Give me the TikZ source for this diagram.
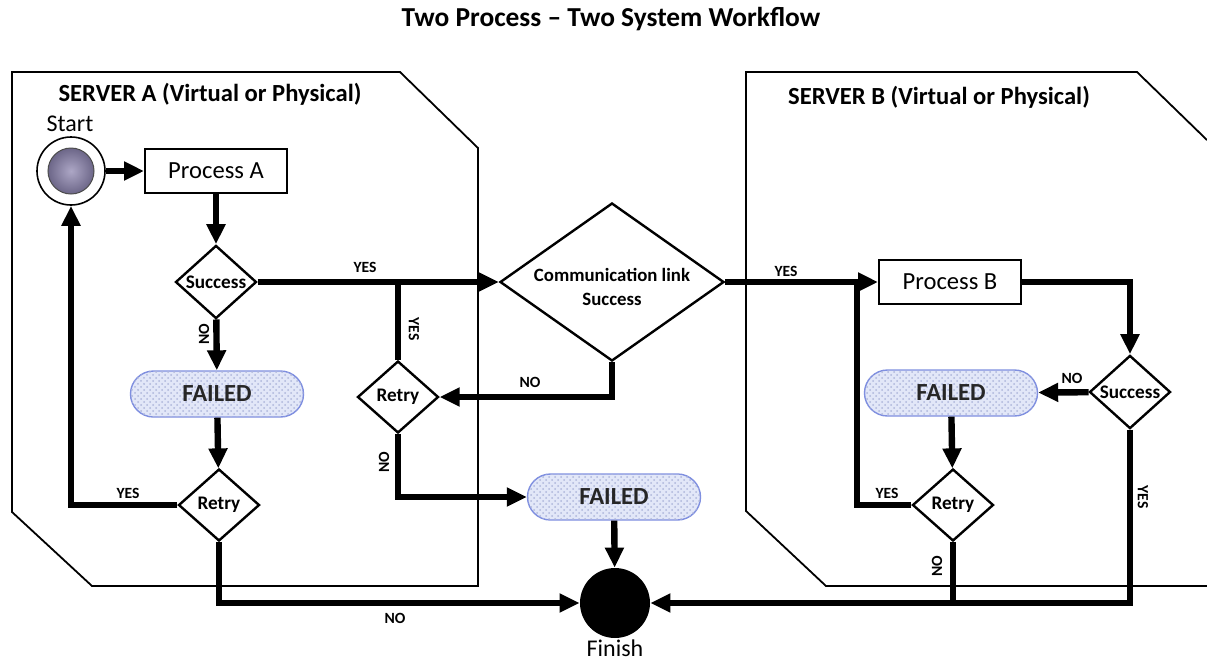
\documentclass[tikz,border=0pt]{standalone}
\usepackage{fontspec}
\setmainfont{Carlito}
\usetikzlibrary{arrows.meta,shapes.geometric,patterns}
\definecolor{failfill}{HTML}{E2E7F8}
\definecolor{failedge}{HTML}{7F8FE0}
\definecolor{dotcol}{HTML}{AEB6DA}
\definecolor{ballin}{HTML}{ADA7C6}
\definecolor{ballout}{HTML}{6C6688}
\tikzset{
  flow/.style={line width=3.2pt},
  arr/.style={flow,-{Triangle[length=10pt,width=9pt]}},
  server/.style={line width=0.9pt},
  procbox/.style={draw,line width=1pt,minimum width=71pt,minimum height=22pt,inner sep=0pt,font=\fontsize{12.3}{14}\selectfont},
  decide/.style={draw,diamond,line width=1.2pt,inner sep=0pt,minimum width=40.5pt,minimum height=36pt,font=\bfseries\fontsize{9.6}{11}\selectfont},
  failpill/.style={draw=failedge,line width=0.7pt,rounded corners=11.5pt,minimum width=86.5pt,minimum height=23pt,inner sep=0pt,
    fill=failfill,postaction={pattern=crosshatch dots,pattern color=dotcol},font=\bfseries\fontsize{12.3}{14}\selectfont,text=black!85},
  tag/.style={font=\bfseries\fontsize{7.8}{9}\selectfont,inner sep=0pt},
  caption/.style={font=\bfseries\fontsize{12.3}{14}\selectfont,inner sep=0pt},
}
\begin{document}
\begin{tikzpicture}[x=0.5pt,y=-0.5pt]
\useasboundingbox (0,0) rectangle (1207,660);
\fill[white] (0,0) rectangle (1207,660);

% title
\node[font=\bfseries\fontsize{13.7}{16}\selectfont,inner sep=0pt] (title) at (611,19) {Two Process -- Two System Workflow};

% server outlines
\draw[server] (12,72) -- (400,72) -- (478,148) -- (478,586) -- (92,586) -- (12,512) -- cycle;
\draw[server] (1207,140) -- (1137,72) -- (746,72) -- (746,511) -- (826,586) -- (1207,586);
\node[caption] (capA) at (210,94) {SERVER A (Virtual or Physical)};
\node[caption] (capB) at (939,97) {SERVER B (Virtual or Physical)};

% start and finish
\node[draw,circle,line width=0.8pt,minimum size=34pt,inner sep=0pt] (start) at (71,171) {};
\shade[inner color=ballin,outer color=ballout,draw=black!70,line width=0.5pt] (start.center) circle[radius=11.5pt];
\node[font=\fontsize{12}{14}\selectfont,inner sep=0pt] (startlbl) at (70,124) {Start};
\node[circle,fill=black,minimum size=35pt,inner sep=0pt] (finish) at (615,603) {};
\node[font=\fontsize{12}{14}\selectfont,inner sep=0pt] (finishlbl) at (615,648) {Finish};

% server A
\node[procbox] (procA) at (216,171) {Process A};
\node[decide] (succA) at (216,282) {Success};
\node[failpill] (failA) at (217,394) {FAILED};
\node[decide] (retryA) at (219,505) {Retry};

% link check: the diamond and its two-line text
\node[draw,diamond,line width=1.2pt,inner sep=0pt,minimum width=112pt,minimum height=79pt] (comm) at (612,282) {};
\node[align=center,inner sep=0pt,font=\bfseries\fontsize{9.4}{11}\selectfont] (commtxt) at (612,287) {Communication link\\[1pt]Success};
\node[decide] (retryM) at (398,397) {Retry};
\node[failpill] (failM) at (614,497) {FAILED};

% server B
\node[procbox] (procB) at (950,282) {Process B};
\node[decide] (succB) at (1130,392) {Success};
\node[failpill] (failB) at (951,393) {FAILED};
\node[decide] (retryB) at (953,505) {Retry};
\coordinate (joinB) at (857,282);

% connectors, server A
\draw[arr] (start) -- (procA);
\draw[arr] (procA) -- (succA);
\draw[arr] (succA) -- (comm);
\draw[arr] (succA) -- (failA);
\draw[arr] (failA) -- (retryA);
\draw[arr] (retryA.west) -| (start.south);
\draw[arr] (retryA.south) |- (finish.west);

% connectors, link check
\draw[flow] (retryM.north) -- (retryM.north |- succA.east);
\draw[arr] (comm.south) |- (retryM.east);
\draw[arr] (retryM.south) |- (failM.west);
\draw[arr] (failM) -- (finish);
\draw[arr] (comm) -- (procB);

% connectors, server B
\draw[arr] (procB.east) -| (succB.north);
\draw[arr] (succB) -- (failB);
\draw[arr] (failB) -- (retryB);
\draw[flow] (retryB.west) -| (joinB);
\draw[flow] (retryB.south) -- (retryB.south |- finish.east);
\draw[arr] (succB.south) |- (finish.east);

% branch tags
\node[tag] (t1) at (365,267) {YES};
\node[tag,rotate=-90] (t2) at (414,329) {YES};
\node[tag,rotate=90] (t3) at (204,334) {NO};
\node[tag] (t4) at (530,382) {NO};
\node[tag,rotate=90] (t5) at (384,462) {NO};
\node[tag] (t6) at (128,493) {YES};
\node[tag] (t7) at (395,618) {NO};
\node[tag] (t8) at (786,271) {YES};
\node[tag] (t9) at (1072,378) {NO};
\node[tag] (t10) at (887,493) {YES};
\node[tag,rotate=90] (t11) at (937,566) {NO};
\node[tag,rotate=-90] (t12) at (1143,497) {YES};
\end{tikzpicture}
\end{document}
